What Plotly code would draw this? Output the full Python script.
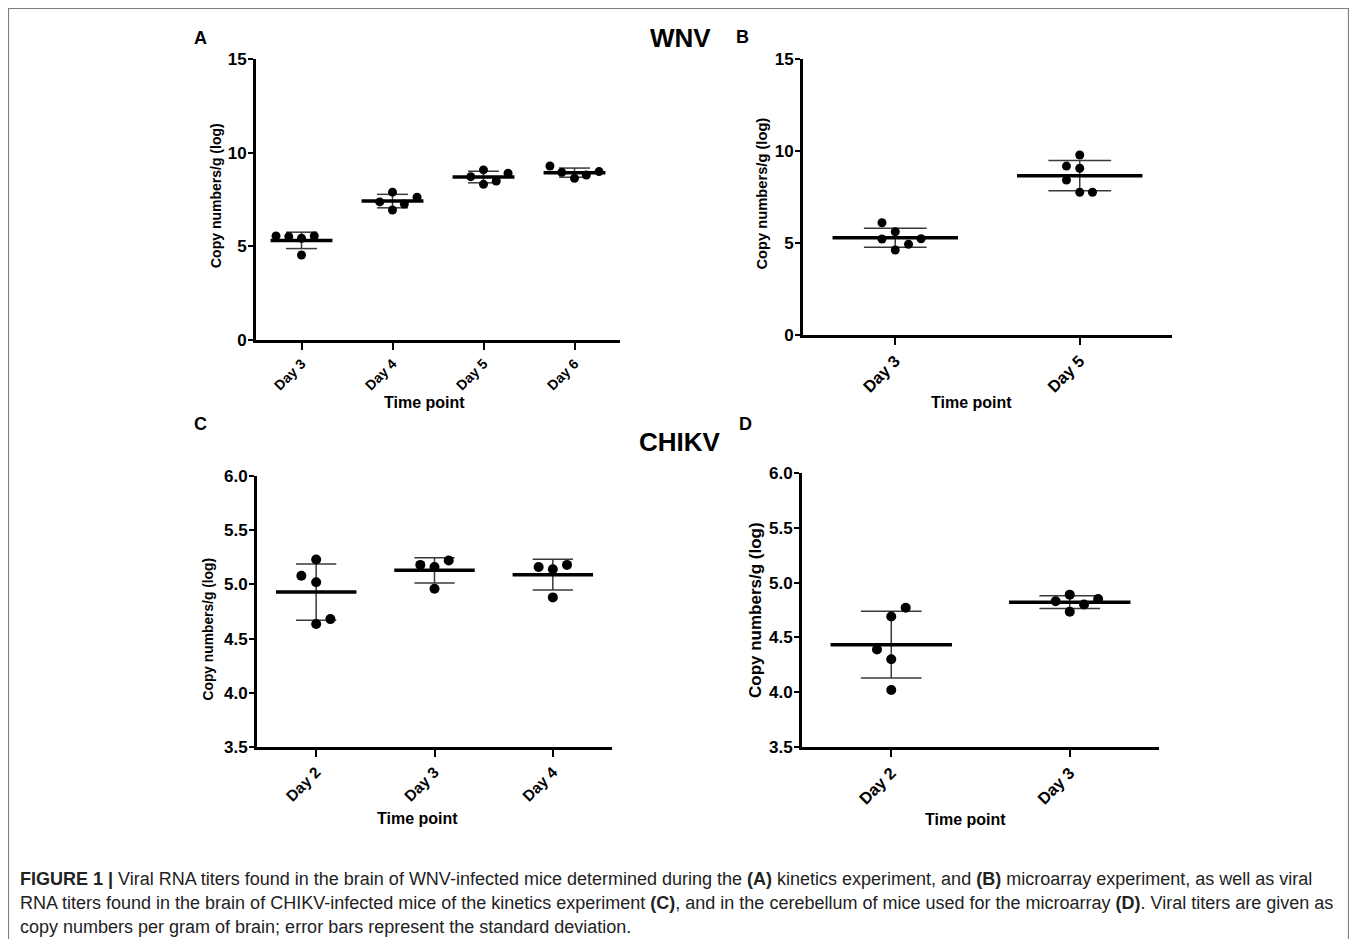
import numpy as np
import plotly.graph_objects as go

# page is rendered inside an 8px body margin, so work in page pixels and shift
PAGE_W, PAGE_H = 1357, 947
OFF = 8
W, H = PAGE_W - 2 * OFF, PAGE_H - 2 * OFF

# ---------------- data ----------------
a_days = ["Day 3", "Day 4", "Day 5", "Day 6"]
a_values = [
    [5.55, 5.52, 5.43, 5.55, 4.54],
    [7.89, 7.37, 6.94, 7.26, 7.62],
    [9.08, 8.72, 8.31, 8.49, 8.90],
    [9.29, 8.95, 8.63, 8.81, 8.99],
]
a_jitter = [
    [-0.28, -0.14, 0.0, 0.14, 0.0],
    [0.0, -0.14, 0.0, 0.13, 0.27],
    [0.0, -0.14, 0.0, 0.14, 0.27],
    [-0.27, -0.14, 0.0, 0.13, 0.27],
]

b_days = ["Day 3", "Day 5"]
b_values = [
    [6.10, 5.61, 5.22, 4.62, 4.93, 5.23],
    [9.78, 9.18, 9.06, 8.42, 7.76, 7.76],
]
b_jitter = [
    [-0.072, 0.0, -0.072, 0.0, 0.072, 0.14],
    [0.0, -0.072, 0.0, -0.072, 0.0, 0.069],
]

c_days = ["Day 2", "Day 3", "Day 4"]
c_values = [
    [5.23, 5.08, 5.02, 4.635, 4.68],
    [5.18, 5.16, 5.22, 4.96],
    [5.16, 5.14, 5.18, 4.88],
]
c_jitter = [
    [0.0, -0.125, 0.0, 0.0, 0.12],
    [-0.12, 0.0, 0.12, 0.0],
    [-0.12, 0.0, 0.12, 0.0],
]

d_days = ["Day 2", "Day 3"]
d_values = [
    [4.77, 4.69, 4.39, 4.30, 4.02],
    [4.83, 4.89, 4.80, 4.85, 4.735],
]
d_jitter = [
    [0.081, 0.0, -0.08, 0.0, 0.0],
    [-0.079, 0.0, 0.08, 0.159, 0.0],
]

wnv_ticks = [0, 5, 10, 15]
chikv_ticks = [3.5, 4.0, 4.5, 5.0, 5.5, 6.0]

y_title = "Copy numbers/g (log)"
x_title = "Time point"

caption_lines = [
    "<b>FIGURE 1 |</b> Viral RNA titers found in the brain of WNV-infected mice determined during the <b>(A)</b> kinetics experiment, and <b>(B)</b> microarray experiment, as well as viral",
    "RNA titers found in the brain of CHIKV-infected mice of the kinetics experiment <b>(C)</b>, and in the cerebellum of mice used for the microarray <b>(D)</b>. Viral titers are given as",
    "copy numbers per gram of brain; error bars represent the standard deviation.",
]

# ---------------- layout helpers ----------------
def fx(x):
    return (x - OFF) / W

def fy(y):
    return 1 - (y - OFF) / H

panels = [
    dict(name="", days=a_days, values=a_values, jitter=a_jitter, xd=(256, 620), yd=(59, 340),
         yr=[0, 15], yt=wnv_ticks, fmt="{:g}", msize=9, xtick=14, ytick=17,
         ytpos=(216.5, 195.5), ytsize=14, xtpos=(425, 403)),
    dict(name="2", days=b_days, values=b_values, jitter=b_jitter, xd=(803, 1172), yd=(59, 335),
         yr=[0, 15], yt=wnv_ticks, fmt="{:g}", msize=9, xtick=16.5, ytick=17,
         ytpos=(761.5, 194), ytsize=14.7, xtpos=(971.5, 402)),
    dict(name="3", days=c_days, values=c_values, jitter=c_jitter, xd=(257, 612), yd=(476, 747),
         yr=[3.5, 6.0], yt=chikv_ticks, fmt="{:.1f}", msize=10, xtick=15.5, ytick=17,
         ytpos=(207.5, 629), ytsize=13.8, xtpos=(417.5, 818.5)),
    dict(name="4", days=d_days, values=d_values, jitter=d_jitter, xd=(802, 1159), yd=(473, 747),
         yr=[3.5, 6.0], yt=chikv_ticks, fmt="{:.1f}", msize=10, xtick=16.5, ytick=17,
         ytpos=(755, 610), ytsize=17, xtpos=(965, 819)),
]

fig = go.Figure()
FONT = "Liberation Sans, Arial, sans-serif"
MEAN_HALF = 0.34
CAP_HALF = 0.17

annotations = []
def label(text, x, y, size, angle=0):
    annotations.append(dict(text=text, x=fx(x), y=fy(y), xref="paper", yref="paper",
                            showarrow=False, xanchor="center", yanchor="middle", textangle=angle,
                            font=dict(family=FONT, size=size, color="black")))

layout_axes = {}
for p in panels:
    name = p["name"]
    xa = "x" + name
    ya = "y" + name
    px_, py_ = [], []
    for i, (vals, jit) in enumerate(zip(p["values"], p["jitter"])):
        for v, j in zip(vals, jit):
            px_.append(i + j)
            py_.append(v)
    mx, my, ex, ey = [], [], [], []
    for i, vals in enumerate(p["values"]):
        m = float(np.mean(vals))
        s = float(np.std(vals, ddof=1))
        mx += [i - MEAN_HALF, i + MEAN_HALF, None]
        my += [m, m, None]
        ex += [i, i, None, i - CAP_HALF, i + CAP_HALF, None, i - CAP_HALF, i + CAP_HALF, None]
        ey += [m - s, m + s, None, m + s, m + s, None, m - s, m - s, None]
    fig.add_trace(go.Scatter(x=ex, y=ey, mode="lines", line=dict(color="#3a3a3a", width=1.5),
                             xaxis=xa, yaxis=ya, showlegend=False, hoverinfo="skip"))
    fig.add_trace(go.Scatter(x=mx, y=my, mode="lines", line=dict(color="black", width=3.5),
                             xaxis=xa, yaxis=ya, showlegend=False, hoverinfo="skip"))
    fig.add_trace(go.Scatter(x=px_, y=py_, mode="markers",
                             marker=dict(color="black", size=p["msize"], line=dict(width=0)),
                             xaxis=xa, yaxis=ya, showlegend=False))

    days = p["days"]
    xd, yd = p["xd"], p["yd"]
    layout_axes["xaxis" + name] = dict(
        domain=[fx(xd[0]), fx(xd[1])], anchor=ya, range=[-0.5, len(days) - 0.5], automargin=False,
        tickvals=list(range(len(days))), ticktext=days, tickangle=-45,
        showline=True, linecolor="black", linewidth=3, ticks="outside", ticklen=7,
        tickwidth=2, tickcolor="black", showgrid=False, zeroline=False,
        tickfont=dict(family=FONT, size=p["xtick"], color="black", weight="bold"),
        fixedrange=True,
    )
    layout_axes["yaxis" + name] = dict(
        domain=[fy(yd[1]), fy(yd[0])], anchor=xa, range=p["yr"], automargin=False,
        tickvals=p["yt"], ticktext=[p["fmt"].format(v) for v in p["yt"]],
        showline=True, linecolor="black", linewidth=3, ticks="outside", ticklen=5,
        tickwidth=2, tickcolor="black", showgrid=False, zeroline=False,
        ticklabelstandoff=-2,
        tickfont=dict(family=FONT, size=p["ytick"], color="black", weight="bold"),
        fixedrange=True,
    )
    label("<b>%s</b>" % y_title, p["ytpos"][0], p["ytpos"][1], p["ytsize"], angle=-90)
    label("<b>%s</b>" % x_title, p["xtpos"][0], p["xtpos"][1], 16)

label("<b>A</b>", 200, 38, 18)
label("<b>WNV</b>", 680, 38, 26)
label("<b>B</b>", 743, 37, 18)
label("<b>C</b>", 200, 424, 18)
label("<b>CHIKV</b>", 680, 442, 26)
label("<b>D</b>", 745, 424, 18)

for k, line in enumerate(caption_lines):
    annotations.append(dict(text=line, x=fx(18), y=fy(879 + 24 * k), xref="paper", yref="paper",
                            showarrow=False, xanchor="left", yanchor="middle", align="left",
                            font=dict(family=FONT, size=18, color="#222222")))

shapes = [dict(type="rect", xref="paper", yref="paper", x0=fx(8.5), x1=fx(1348.5), y0=fy(939.5), y1=fy(8.5),
               line=dict(color="#808080", width=1.2), fillcolor="rgba(0,0,0,0)")]

fig.update_layout(
    width=W, height=H, margin=dict(l=0, r=0, t=0, b=0, autoexpand=False),
    paper_bgcolor="white", plot_bgcolor="white",
    annotations=annotations, shapes=shapes, showlegend=False,
    font=dict(family=FONT, color="black"),
    **layout_axes,
)

fig.write_html("out.html", include_plotlyjs=True, config={"displayModeBar": False})
